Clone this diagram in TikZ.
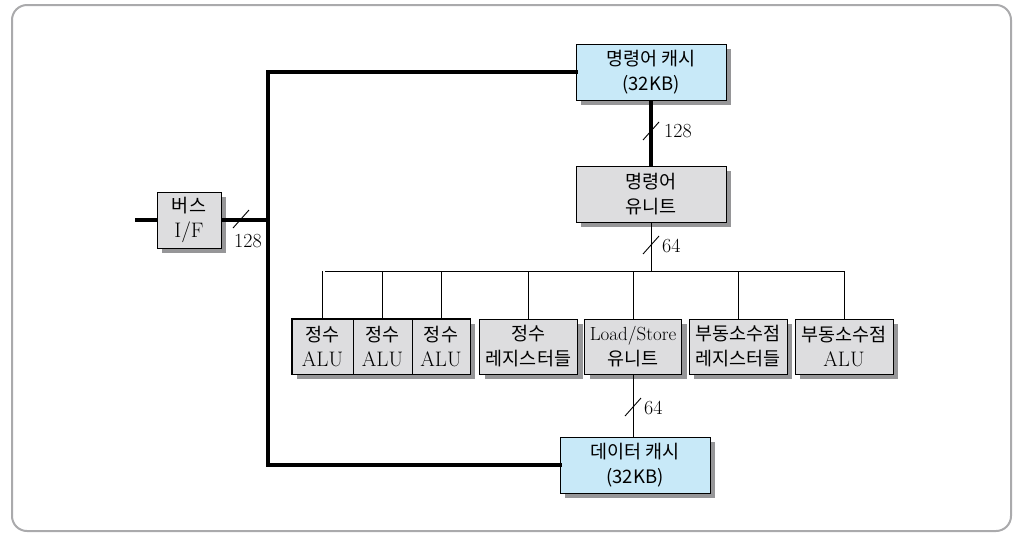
\documentclass[tikz,border=0pt]{standalone}
\usepackage{fontspec}
\newfontfamily\kr{Noto Sans CJK KR}
\newcommand\serifpart{\rmfamily\fontsize{21}{25}\selectfont}
\usetikzlibrary{shadows}
\definecolor{cacheblue}{RGB}{200,233,248}
\definecolor{unitgray}{RGB}{221,221,223}
\definecolor{framegray}{RGB}{170,170,172}
\definecolor{shadowgray}{RGB}{150,150,152}
\begin{document}
\begin{tikzpicture}[x=1pt,y=-1pt,
  box/.style={draw, line width=0.9pt, inner sep=0pt, align=center,
    font=\kr\fontsize{18.5}{25}\selectfont,
    drop shadow={shadow xshift=5pt, shadow yshift=-5pt, fill=shadowgray, opacity=1}},
  cache/.style={box, fill=cacheblue},
  unit/.style={box, fill=unitgray},
  busline/.style={line width=4pt},
  thinline/.style={line width=0.9pt},
  slashmark/.style={line width=0.9pt},
  widthlabel/.style={font=\fontsize{20}{22}\selectfont, inner sep=0pt}]
\useasboundingbox (0,0) rectangle (1024,542);
\draw[framegray, line width=2pt, rounded corners=15pt] (12,5) rectangle (1011,531);

% nodes
\node[cache, minimum width=150pt, minimum height=56pt] (icache) at (651,72) {명령어 캐시\\(32KB)};
\node[unit, minimum width=150pt, minimum height=56pt] (iunit) at (651,194) {명령어\\유니트};
\node[unit, minimum width=64pt, minimum height=56pt] (busif) at (189,220) {버스\\{\serifpart I/F}};
\node[cache, minimum width=150pt, minimum height=56pt] (dcache) at (635,465) {데이터 캐시\\(32KB)};

\node[unit, minimum width=61pt, minimum height=55pt] (alu1) at (322.5,346.5) {정수\\{\serifpart ALU}};
\node[unit, minimum width=59pt, minimum height=55pt] (alu2) at (382.5,346.5) {정수\\{\serifpart ALU}};
\node[unit, minimum width=58pt, minimum height=55pt] (alu3) at (441,346.5) {정수\\{\serifpart ALU}};
\node[unit, minimum width=98pt, minimum height=55pt] (intreg) at (528.5,346.5) {정수\\레지스터들};
\node[unit, minimum width=97pt, minimum height=55pt] (ls) at (633,346.5) {{\rmfamily\fontsize{19}{25}\selectfont Load/Store}\\유니트};
\node[unit, minimum width=98pt, minimum height=55pt] (fpreg) at (738,346.5) {부동소수점\\레지스터들};
\node[unit, minimum width=98pt, minimum height=55pt] (fpalu) at (844,346.5) {부동소수점\\{\serifpart ALU}};
% redraw ALU borders over shadows of neighbours
\draw[line width=0.9pt] (alu1.north west) rectangle (alu3.south east);
\draw[line width=0.9pt] (alu1.north east) -- (alu1.south east) (alu2.north east) -- (alu2.south east);

% coordinates
\coordinate (lin) at (135,220);
\coordinate (bj) at (268,220);
\coordinate (tl) at (268,72);
\coordinate (bl) at (268,465);
\coordinate (b0) at (325,271);
\coordinate (b1) at (845,271);

% thick bus lines
\draw[busline] (lin) -- (busif.west);
\draw[busline] (busif.east) -- (bj);
\draw[busline, line cap=rect] (icache.west) -- (tl) -- (bl) -- (dcache.west);
\draw[busline] (icache.south) -- (iunit.north);

% thin lines
\draw[thinline] (iunit.south) -- (iunit.south |- b0);
\draw[thinline] (b0) -- (b1);
\foreach \n in {alu1,alu2,alu3,intreg,ls,fpreg,fpalu}
  \draw[thinline] (\n.north |- b0) -- (\n.north);
\draw[thinline] (ls.south) -- (ls.south |- dcache.north);

% slash marks
\coordinate (s1) at (651,131);
\coordinate (s2) at (241,219);
\coordinate (s3) at (651,245);
\coordinate (s4) at (633,407);
\foreach \s in {s1,s2,s3,s4}
  \draw[slashmark] ([shift={(-8,9)}]\s) -- ([shift={(8,-9)}]\s);
\node[widthlabel, anchor=west] (l1) at (664,131) {128};
\node[widthlabel] (l2) at (248,241) {128};
\node[widthlabel, anchor=west] (l3) at (662,246) {64};
\node[widthlabel, anchor=west] (l4) at (644,408) {64};
\end{tikzpicture}
\end{document}
